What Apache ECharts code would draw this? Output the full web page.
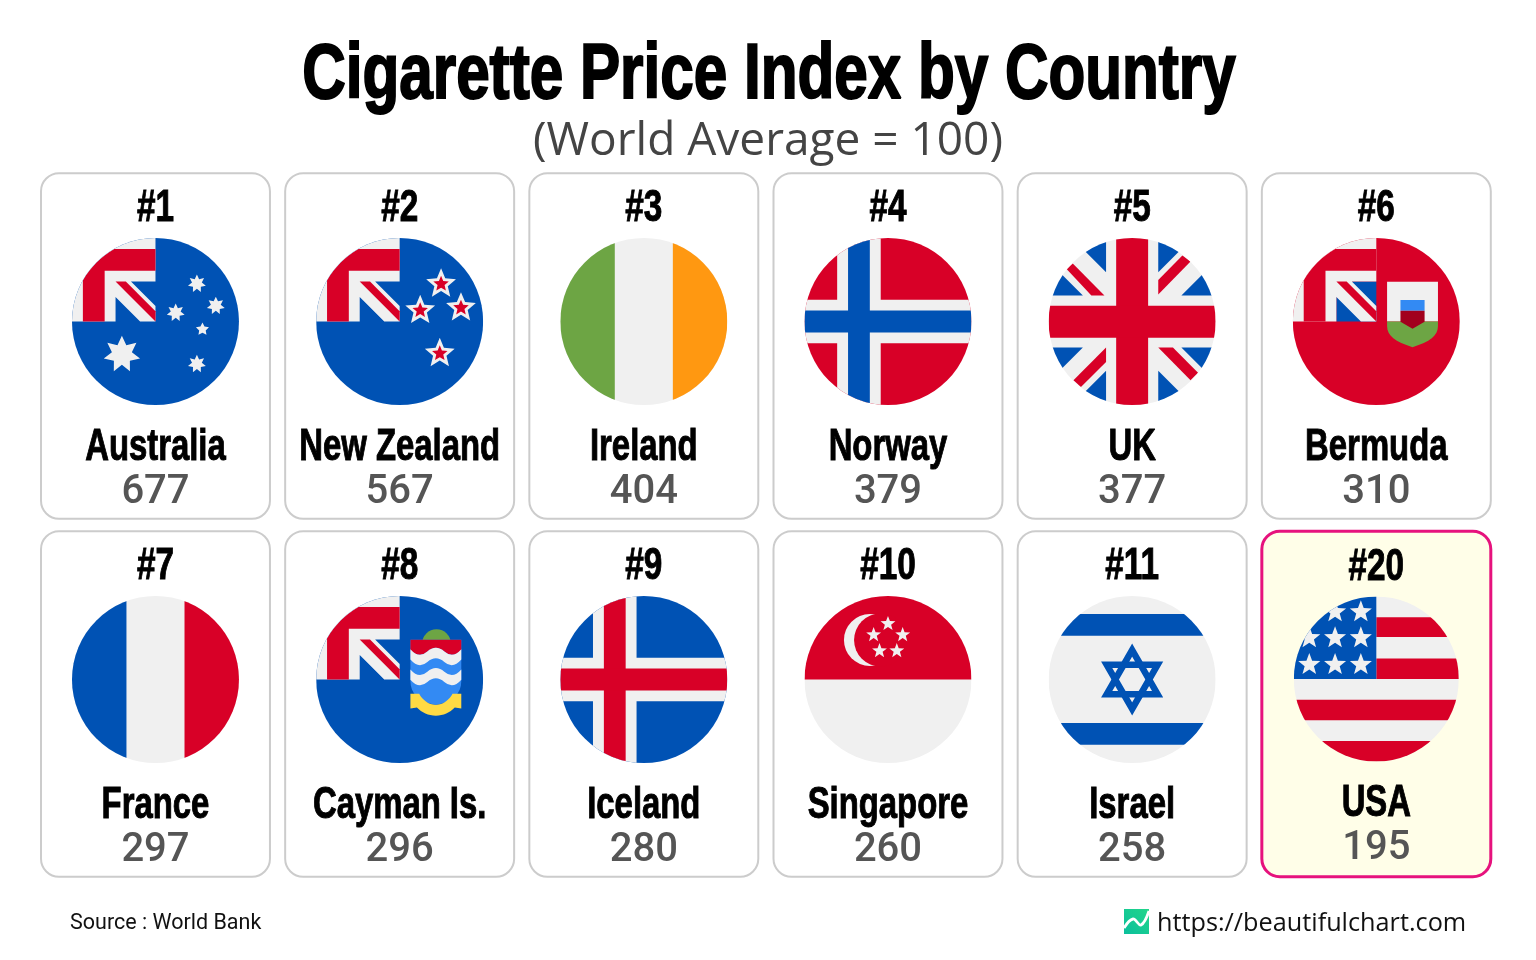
<!DOCTYPE html>
<html lang="en">
<head>
<meta charset="UTF-8">
<title>Cigarette Price Index by Country</title>
<style>
  html, body { margin: 0; padding: 0; background: #fff; }
  #chart { width: 1536px; height: 960px; }
</style>
</head>
<body>
<div id="chart"></div>
<script src="https://cdn.jsdelivr.net/npm/echarts@6/dist/echarts.min.js"></script>
<script>
var ranks = ['#1', '#2', '#3', '#4', '#5', '#6', '#7', '#8', '#9', '#10', '#11', '#20'];
var countries = ['Australia', 'New Zealand', 'Ireland', 'Norway', 'UK', 'Bermuda',
  'France', 'Cayman Is.', 'Iceland', 'Singapore', 'Israel', 'USA'];
var values = [677, 567, 404, 379, 377, 310, 297, 296, 280, 260, 258, 195];
var highlighted = 'USA';
var columns = ['c1', 'c2', 'c3', 'c4', 'c5', 'c6'];
var rows = ['r1', 'r2'];

var RED = '#D80027', BLUE = '#0052B4', WHITE = '#F0F0F0', GREEN = '#6DA544',
  ORANGE = '#FF9811', SKY = '#338AF3', YELLOW = '#FFDA44', MAROON = '#A2001D';
var HEAVY = '"Liberation Sans", Arial, sans-serif';

// flags are pictograms on a 512 box, clipped to a circle
function box(color, x, y, w, h) {
  return { type: 'rect', shape: { x: x, y: y, width: w, height: h }, style: { fill: color } };
}
function path(color, d) {
  return { type: 'path', shape: { pathData: d }, style: { fill: color } };
}
function poly(color, pts) {
  return { type: 'polygon', shape: { points: pts }, style: { fill: color } };
}
function disc(color, x, y, r) {
  return { type: 'circle', shape: { cx: x, cy: y, r: r }, style: { fill: color } };
}
function star(color, x, y, r, n, ratio) {
  var pts = [];
  for (var i = 0; i < n * 2; i++) {
    var a = -Math.PI / 2 + i * Math.PI / n;
    var rr = i % 2 ? r * ratio : r;
    pts.push([x + rr * Math.cos(a), y + rr * Math.sin(a)]);
  }
  return poly(color, pts);
}
function canton() {
  return [
    path(WHITE, 'M256,133.565V0H0V256H133.565V180.789L208.776,256H256V208.778L180.787,133.565Z'),
    path(RED, 'M129.515,33.391C89.476,56.19,56.19,89.476,33.391,129.515V256H100.174V100.174H256V33.391Z'),
    path(RED, 'M256,224.519L165.047,133.566H133.566L255.998,256H256Z')
  ];
}
function cross(base, band, core) {
  return [
    box(base, 0, 0, 512, 512),
    box(band, 100.174, 0, 133.565, 512),
    box(band, 0, 189.217, 512, 133.565),
    box(core, 133.565, 0, 66.783, 512),
    box(core, 0, 222.609, 512, 66.783)
  ];
}
function wave(color, y) {
  return path(color, 'M289,' + y + 'Q315,' + (y + 30) + ' 341,' + (y + 7) + 'Q367,' + (y - 16) + ' 393,' + (y + 7) +
    'Q419,' + (y + 30) + ' 445,' + y + 'V' + (y + 32) + 'Q419,' + (y + 62) + ' 393,' + (y + 39) +
    'Q367,' + (y + 16) + ' 341,' + (y + 39) + 'Q315,' + (y + 62) + ' 289,' + (y + 32) + 'Z');
}

var flags = {
  'Australia': function () {
    return [box(BLUE, 0, 0, 512, 512)].concat(canton(), [
      star(WHITE, 153, 357, 57, 7, 0.55),
      star(WHITE, 383, 140, 28, 7, 0.55),
      star(WHITE, 441, 208, 28, 7, 0.55),
      star(WHITE, 318, 229, 28, 7, 0.55),
      star(WHITE, 400, 280, 21, 5, 0.5),
      star(WHITE, 383, 386, 28, 7, 0.55)
    ]);
  },
  'New Zealand': function () {
    var out = [box(BLUE, 0, 0, 512, 512)].concat(canton());
    [[383, 141], [444, 214], [319, 222], [379, 354]].forEach(function (p) {
      out.push(star(WHITE, p[0], p[1], 48, 5, 0.45), star(RED, p[0], p[1], 25, 5, 0.45));
    });
    return out;
  },
  'Ireland': function () {
    return [box(WHITE, 0, 0, 512, 512), box(GREEN, 0, 0, 167, 512), box(ORANGE, 345, 0, 167, 512)];
  },
  'Norway': function () { return cross(RED, WHITE, BLUE); },
  'UK': function () {
    return [
      box(WHITE, 0, 0, 512, 512),
      poly(BLUE, [[176, 0], [71, 0], [176, 105]]),
      poly(BLUE, [[336, 0], [441, 0], [336, 105]]),
      poly(BLUE, [[0, 176], [0, 71], [105, 176]]),
      poly(BLUE, [[512, 176], [512, 71], [407, 176]]),
      poly(BLUE, [[0, 336], [0, 441], [105, 336]]),
      poly(BLUE, [[512, 336], [512, 441], [407, 336]]),
      poly(BLUE, [[176, 512], [71, 512], [176, 407]]),
      poly(BLUE, [[336, 512], [441, 512], [336, 407]]),
      poly(RED, [[74, 78], [55, 95], [131, 176], [171, 176]]),
      poly(RED, [[410, 54], [435, 72], [336, 173], [336, 129]]),
      poly(RED, [[76, 436], [99, 457], [176, 380], [176, 336]]),
      poly(RED, [[336, 336], [381, 336], [458, 413], [435, 436]]),
      box(RED, 207, 0, 98, 512),
      box(RED, 0, 208, 512, 98)
    ];
  },
  'Bermuda': function () {
    return [box(RED, 0, 0, 512, 512), box(BLUE, 133.565, 133.565, 122.435, 122.435)].concat(canton(), [
      box(WHITE, 289, 134, 156, 122),
      path(GREEN, 'M289,256H445V270C445,300,420,318,367,335C314,318,289,300,289,270Z'),
      box(SKY, 330, 190, 74, 33),
      path(MAROON, 'M330,223H404V257L367,278L330,257Z')
    ]);
  },
  'France': function () {
    return [box(WHITE, 0, 0, 512, 512), box(BLUE, 0, 0, 167, 512), box(RED, 345, 0, 167, 512)];
  },
  'Cayman Is.': function () {
    return [box(BLUE, 0, 0, 512, 512)].concat(canton(), [
      disc(GREEN, 369, 146, 44),
      path(SKY, 'M289,134H445V260C445,300,420,325,367,334C314,325,289,300,289,260Z'),
      path(RED, 'M289,134H445V165Q419,193 393,170Q367,147 341,170Q315,193 289,165Z'),
      wave(WHITE, 163),
      wave(WHITE, 225),
      path(YELLOW, 'M289,300H316C325,318,345,334,367,334C389,334,409,318,418,300H445V345L425,342C410,358,390,367,367,367C344,367,324,358,309,342L289,345Z')
    ]);
  },
  'Iceland': function () { return cross(BLUE, WHITE, RED); },
  'Singapore': function () {
    return [
      box(WHITE, 0, 0, 512, 512),
      box(RED, 0, 0, 512, 256),
      disc(WHITE, 200.5, 135, 79.5),
      disc(RED, 233, 135, 81),
      star(WHITE, 256, 85, 24, 5, 0.42),
      star(WHITE, 212, 119, 24, 5, 0.42),
      star(WHITE, 301, 119, 24, 5, 0.42),
      star(WHITE, 230, 168, 24, 5, 0.42),
      star(WHITE, 283, 168, 24, 5, 0.42)
    ];
  },
  'Israel': function () {
    function tri(a) {
      var pts = [];
      for (var i = 0; i < 3; i++) {
        var t = a + i * 2 * Math.PI / 3;
        pts.push([256 + 90 * Math.cos(t), 256 + 90 * Math.sin(t)]);
      }
      return {
        type: 'polygon', shape: { points: pts },
        style: { fill: 'none', stroke: BLUE, lineWidth: 20, lineJoin: 'miter', miterLimit: 4 }
      };
    }
    return [
      box(WHITE, 0, 0, 512, 512),
      box(BLUE, 0, 55, 512, 67),
      box(BLUE, 0, 389, 512, 67),
      tri(-Math.PI / 2),
      tri(Math.PI / 2)
    ];
  },
  'USA': function () {
    var out = [
      box(WHITE, 0, 0, 512, 512),
      box(RED, 256, 64, 256, 62),
      box(RED, 256, 192, 256, 64),
      box(RED, 0, 320, 512, 64),
      box(RED, 0, 448, 512, 64),
      box(BLUE, 0, 0, 256, 256)
    ];
    [48, 128.5, 211.5].forEach(function (y) {
      [48, 128, 208].forEach(function (x) { out.push(star(WHITE, x, y, 36, 5, 0.42)); });
    });
    return out;
  }
};

function heavyText(text, x, y, size, squeeze, thick) {
  return {
    type: 'text', x: x, y: y, scaleX: squeeze,
    style: {
      text: text, fill: '#000', stroke: '#000', lineWidth: thick,
      font: 'bold ' + size + 'px ' + HEAVY, align: 'center', verticalAlign: 'middle'
    }
  };
}

function renderCard(params, api) {
  var i = params.dataIndex;
  var c = api.coord([api.value(0), api.value(1)]);
  var band = api.size([1, 1]);
  var w = band[0] - 15.2, h = band[1] - 12.4;
  var isHot = countries[i] === highlighted;
  var lift = isHot ? -2 : 0;
  var r = isHot ? 82.5 : 83.5;
  var s = r / 256;
  return {
    type: 'group',
    children: [
      {
        type: 'rect',
        shape: { x: c[0] - w / 2, y: c[1] - h / 2, width: w, height: h, r: 18 },
        style: { fill: isHot ? '#FFFEE8' : '#fff', stroke: isHot ? '#E6127D' : '#CCCCCC', lineWidth: isHot ? 3 : 2 }
      },
      heavyText(ranks[i], c[0], c[1] - 137 + (isHot ? 1 : 0), 45, 0.74, 1),
      {
        type: 'group',
        x: c[0] - 256 * s, y: c[1] - 24.5 - 256 * s + (isHot ? -0.5 : 0),
        scaleX: s, scaleY: s,
        clipPath: { type: 'circle', shape: { cx: 256, cy: 256, r: 256 } },
        children: flags[countries[i]]()
      },
      heavyText(countries[i], c[0], c[1] + 102 + lift, 45, 0.73, 1),
      {
        type: 'text', x: c[0], y: c[1] + 147 + lift,
        style: {
          text: String(values[i]), fill: '#555', align: 'center', verticalAlign: 'middle',
          font: '500 40px Roboto, sans-serif'
        }
      }
    ]
  };
}

var chart = echarts.init(document.getElementById('chart'), null, { renderer: 'canvas' });
chart.setOption({
  animation: false,
  backgroundColor: '#fff',
  grid: { left: 33.4, top: 167, width: 1465, height: 716 },
  xAxis: { type: 'category', data: columns, show: false },
  yAxis: { type: 'category', data: rows, inverse: true, show: false },
  series: [{
    type: 'custom',
    clip: false,
    silent: true,
    encode: { x: 0, y: 1 },
    data: countries.map(function (c, i) { return [i % columns.length, Math.floor(i / columns.length), values[i]]; }),
    renderItem: renderCard
  }],
  graphic: [
    {
      type: 'text', x: 769, y: 76, scaleX: 0.772,
      style: {
        text: 'Cigarette Price Index by Country', fill: '#000', stroke: '#000', lineWidth: 2,
        font: 'bold 78px ' + HEAVY, textAlign: 'center', textVerticalAlign: 'middle'
      }
    },
    {
      type: 'text', x: 768, y: 142,
      style: {
        text: '(World Average = 100)', fill: '#444',
        font: '46px "Open Sans", sans-serif', textAlign: 'center', textVerticalAlign: 'middle'
      }
    },
    {
      type: 'text', x: 70, y: 924,
      style: {
        text: 'Source : World Bank', fill: '#111',
        font: '21.5px Roboto, sans-serif', textAlign: 'left', textVerticalAlign: 'middle'
      }
    },
    {
      type: 'rect', shape: { x: 1124, y: 909, width: 25, height: 25 },
      style: {
        fill: {
          type: 'linear', x: 1, y: 0, x2: 0, y2: 1,
          colorStops: [{ offset: 0, color: '#22D68A' }, { offset: 1, color: '#0BBF9C' }]
        }
      }
    },
    {
      type: 'polyline',
      shape: { points: [[1124, 928], [1133, 919], [1141, 925], [1149, 911]], smooth: 0.4 },
      style: { fill: 'none', stroke: '#fff', lineWidth: 2.8 }
    },
    {
      type: 'text', x: 1157, y: 924,
      style: {
        text: 'https://beautifulchart.com', fill: '#111',
        font: '25.25px "Open Sans", sans-serif', textAlign: 'left', textVerticalAlign: 'middle'
      }
    }
  ]
});
</script>
</body>
</html>
